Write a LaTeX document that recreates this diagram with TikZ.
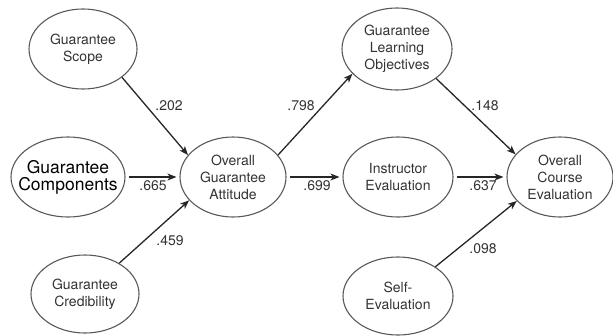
\documentclass[tikz,border=0pt]{standalone}
\usepackage{fontspec}
\setmainfont{TeX Gyre Heros}
\usetikzlibrary{shapes.geometric,arrows.meta}
\tikzset{
  latent/.style={ellipse, draw=black!65, line width=1.1pt, inner sep=0pt,
    minimum width=108pt, minimum height=80pt, align=center, text=black!80,
    font=\fontsize{14}{17}\selectfont},
  link/.style={-{Stealth[length=9pt,width=7pt,inset=2.5pt]}, line width=1.3pt, black!85},
  gap/.style={shorten >=3pt, shorten <=3pt},
  coef/.style={inner sep=0pt, text=black!80, font=\fontsize{14}{17}\selectfont}
}
\begin{document}
\begin{tikzpicture}[x=1pt, y=-1pt]
	\useasboundingbox (0,0) rectangle (613,335);

	% факторы гарантии
	\node [latent] (scope) at (83,49) {Guarantee\\Scope};
	\node [latent, minimum width=114pt, inner xsep=-12pt, text=black, font=\fontsize{17.5}{17}\selectfont] (comp) at (68,177) {Guarantee\\Components};
	\node [latent, minimum height=78pt] (cred) at (85,294) {Guarantee\\Credibility};
	\node [latent, minimum width=106pt] (att) at (233,177) {Overall\\Guarantee\\Attitude};

	% оценки курса
	\node [latent, minimum width=110pt, minimum height=82pt] (learn) at (397,49) {Guarantee\\Learning\\Objectives};
	\node [latent, minimum width=110pt] (instr) at (398,177) {Instructor\\Evaluation};
	\node [latent, minimum width=110pt, minimum height=78pt] (self) at (398,296) {Self-\\Evaluation};
	\node [latent, minimum width=106pt] (course) at (560,177) {Overall\\Course\\Evaluation};

	% связи
	\draw [link] (scope.-36) -- (att.154);
	\draw [link, gap] (comp) -- (att);
	\draw [link] (cred.42) -- (att.208);
	\draw [link] (att.26) -- (learn.209);
	\draw [link, gap] (att) -- (instr);
	\draw [link] (learn.-37) -- (course.153);
	\draw [link, gap] (instr) -- (course);
	\draw [link] (self.38) -- (course.209);

	% коэффициенты
	\node [coef] (c202) at (169,106) {.202};
	\node [coef] (c665) at (153,186) {.665};
	\node [coef] (c459) at (170,241) {.459};
	\node [coef] (c798) at (301,106) {.798};
	\node [coef] (c699) at (317,186) {.699};
	\node [coef] (c148) at (485,106) {.148};
	\node [coef] (c637) at (483,186) {.637};
	\node [coef] (c098) at (483,249) {.098};
\end{tikzpicture}
\end{document}
